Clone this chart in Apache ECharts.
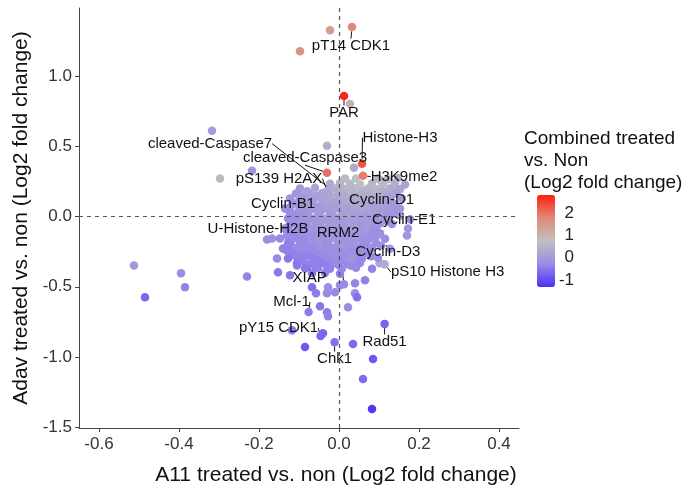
<!DOCTYPE html>
<html>
<head>
<meta charset="utf-8">
<script src="https://cdn.jsdelivr.net/npm/echarts@6/dist/echarts.min.js"></script>
<style>
  html, body { margin: 0; padding: 0; background: #fff; }
  #main { width: 685px; height: 495px; }
</style>
</head>
<body>
<div id="main"></div>
<script>
// [A11 log2 FC, Adav log2 FC, combined log2 FC]
const proteins = [
  [-0.0225, 1.326, 1.4], [-0.0975, 1.177, 1.6], [0.0275, 0.801, 1.0],
  [-0.3175, 0.61, 0.0], [-0.03, 0.504, 0.4], [-0.2975, 0.27, 0.6],
  [-0.2175, 0.326, -0.1], [0.0375, 0.348, 0.3],
  [-0.5125, -0.348, -0.05], [-0.485, -0.574, -0.7], [-0.395, -0.404, -0.25],
  [-0.385, -0.504, -0.4], [-0.23, -0.426, -0.35], [-0.18, -0.163, -0.25],
  [-0.1675, -0.156, -0.2], [-0.155, -0.298, -0.3], [-0.1525, -0.397, -0.5],
  [-0.105, -0.348, -0.4], [-0.1225, -0.418, -0.5], [-0.0675, -0.504, -0.6],
  [-0.0575, -0.546, -0.45], [-0.03, -0.546, -0.3], [-0.01, -0.539, -0.3],
  [-0.0275, -0.504, -0.2], [0.0025, -0.489, -0.3], [0.04, -0.475, -0.35],
  [0.04, -0.546, -0.3], [0.045, -0.574, -0.6], [0.065, -0.454, -0.4],
  [0.0225, -0.645, -0.25], [-0.0475, -0.638, -0.5], [-0.03, -0.681, -0.45],
  [-0.0275, -0.709, -0.4], [-0.1175, -0.809, -0.5], [-0.04, -0.83, -0.7],
  [-0.085, -0.929, -0.9], [0.035, -0.908, -0.65], [0.085, -1.014, -0.9],
  [0.06, -1.156, -0.65], [0.0825, -1.369, -1.25], [0.1015, -0.333, 0.3],
  [0.1725, -0.085, -0.1], [0.1525, 0.007, 0.0], [0.17, -0.135, -0.1],
  // central cloud
  [0.015, 0.27, 0.6], [0.0425, 0.27, 0.7], [0.0975, 0.27, 0.5], [0.1225, 0.265, 0.6], [0.1475, 0.275, 0.4],
  [-0.0225, 0.234, 0.3], [0.0025, 0.238, 0.5], [0.0275, 0.234, 0.6], [0.0525, 0.23, 0.7], [0.0825, 0.236, 0.5],
  [0.11, 0.232, 0.6], [0.14, 0.234, 0.4], [0.165, 0.228, 0.2],
  [-0.0975, 0.199, 0.0], [-0.06, 0.204, 0.2], [-0.01, 0.199, 0.4], [0.015, 0.195, 0.5], [0.04, 0.2, 0.6],
  [0.0725, 0.199, 0.5], [0.0975, 0.196, 0.6], [0.1275, 0.2, 0.3], [0.1525, 0.194, 0.2],
  [-0.08, 0.18, 0.1], [-0.03, 0.182, 0.3], [0.0, 0.178, 0.4], [0.03, 0.18, 0.5], [0.06, 0.183, 0.5],
  [0.085, 0.178, 0.5], [0.11, 0.181, 0.4], [0.135, 0.179, 0.3],
  [-0.1075, 0.163, -0.1], [-0.0725, 0.16, 0.1], [-0.0425, 0.166, 0.2], [-0.0025, 0.163, 0.3], [0.0275, 0.16, 0.5],
  [0.0575, 0.165, 0.4], [0.09, 0.163, 0.5], [0.1175, 0.158, 0.3], [0.1425, 0.163, 0.1],
  [-0.095, 0.145, 0.0], [-0.055, 0.147, 0.1], [-0.02, 0.143, 0.3], [0.012, 0.146, 0.3], [0.045, 0.144, 0.4],
  [0.075, 0.147, 0.4], [0.105, 0.143, 0.3], [0.13, 0.146, 0.2],
  [-0.1225, 0.128, -0.1], [-0.085, 0.125, 0.0], [-0.06, 0.13, 0.1], [-0.0275, 0.128, 0.2], [0.0025, 0.132, 0.3],
  [0.0325, 0.126, 0.3], [0.065, 0.128, 0.4], [0.095, 0.131, 0.3], [0.1275, 0.125, 0.1], [0.1575, 0.128, 0.0],
  [-0.1, 0.11, -0.1], [-0.07, 0.108, 0.0], [-0.04, 0.112, 0.2], [-0.005, 0.109, 0.2], [0.025, 0.111, 0.3],
  [0.055, 0.108, 0.3], [0.085, 0.112, 0.2], [0.12, 0.109, 0.1],
  [-0.11, 0.092, -0.1], [-0.0775, 0.095, 0.0], [-0.0425, 0.09, 0.1], [-0.015, 0.092, 0.2], [0.015, 0.096, 0.2],
  [0.045, 0.09, 0.3], [0.0775, 0.092, 0.2], [0.1125, 0.094, 0.1], [0.14, 0.088, 0.0],
  [-0.12, 0.075, -0.1], [-0.09, 0.077, 0.0], [-0.06, 0.073, 0.0], [-0.025, 0.076, 0.1], [0.005, 0.074, 0.2],
  [0.035, 0.077, 0.2], [0.07, 0.073, 0.2], [0.1, 0.076, 0.1], [0.13, 0.074, 0.0],
  [-0.135, 0.057, -0.2], [-0.0975, 0.06, -0.1], [-0.0675, 0.055, 0.0], [-0.035, 0.057, 0.1], [-0.005, 0.06, 0.1],
  [0.0275, 0.054, 0.2], [0.0575, 0.057, 0.2], [0.09, 0.06, 0.1], [0.1225, 0.055, 0.0], [0.1525, 0.057, -0.1],
  [-0.125, 0.04, -0.2], [-0.1, 0.042, -0.1], [-0.075, 0.038, 0.0], [-0.045, 0.041, 0.0], [-0.015, 0.039, 0.1],
  [0.02, 0.042, 0.1], [0.05, 0.038, 0.2], [0.085, 0.041, 0.1], [0.115, 0.039, 0.0], [0.145, 0.042, -0.1],
  [-0.1175, 0.021, -0.2], [-0.085, 0.024, -0.1], [-0.0525, 0.019, 0.0], [-0.0225, 0.021, 0.0], [0.0075, 0.025, 0.1],
  [0.04, 0.018, 0.1], [0.07, 0.021, 0.1], [0.1025, 0.023, 0.0], [0.1325, 0.019, -0.1],
  [-0.11, 0.003, -0.2], [-0.08, 0.005, -0.1], [-0.05, 0.001, 0.0], [-0.02, 0.004, 0.0], [0.01, 0.002, 0.1],
  [0.035, 0.005, 0.1], [0.065, 0.001, 0.0], [0.095, 0.004, 0.0], [0.125, 0.002, -0.1],
  [-0.1275, -0.014, -0.3], [-0.0975, -0.011, -0.2], [-0.0675, -0.016, -0.1], [-0.0375, -0.014, 0.0], [-0.0075, -0.01, 0.0],
  [0.0225, -0.017, 0.1], [0.0525, -0.014, 0.0], [0.0825, -0.012, 0.0], [0.115, -0.016, -0.1], [0.1775, -0.02, -0.2],
  [-0.12, -0.032, -0.2], [-0.09, -0.03, -0.1], [-0.06, -0.034, -0.1], [-0.03, -0.031, 0.0], [0.0, -0.033, 0.0],
  [0.03, -0.03, 0.1], [0.06, -0.034, 0.0], [0.09, -0.031, -0.1], [0.12, -0.033, -0.1],
  [-0.11, -0.05, -0.2], [-0.08, -0.047, -0.1], [-0.0475, -0.053, -0.1], [-0.0175, -0.05, 0.0], [0.0125, -0.046, 0.0],
  [0.0425, -0.052, 0.0], [0.0725, -0.05, 0.0], [0.1025, -0.048, -0.1], [0.1325, -0.054, -0.2],
  [-0.125, -0.068, -0.3], [-0.09, -0.066, -0.2], [-0.055, -0.07, -0.1], [-0.025, -0.067, 0.0], [0.005, -0.069, 0.0],
  [0.035, -0.066, 0.0], [0.065, -0.07, -0.1], [0.095, -0.067, -0.1],
  [-0.135, -0.085, -0.3], [-0.1025, -0.088, -0.2], [-0.0725, -0.083, -0.1], [-0.0425, -0.085, -0.1],
  [-0.01, -0.089, 0.0], [0.02, -0.084, 0.0], [0.0525, -0.087, -0.1], [0.0825, -0.085, -0.1],
  [-0.13, -0.103, -0.3], [-0.1, -0.101, -0.2], [-0.07, -0.105, -0.1], [-0.04, -0.102, -0.1], [-0.01, -0.104, 0.0],
  [0.02, -0.101, 0.0], [0.05, -0.105, -0.1], [0.085, -0.102, -0.2],
  [-0.1175, -0.121, -0.3], [-0.085, -0.118, -0.2], [-0.055, -0.124, -0.1], [-0.025, -0.121, -0.1],
  [0.005, -0.117, -0.1], [0.035, -0.123, 0.0], [0.0675, -0.121, -0.1], [0.1025, -0.119, -0.2],
  [-0.13, -0.138, -0.3], [-0.095, -0.136, -0.2], [-0.065, -0.14, -0.2], [-0.035, -0.137, -0.1], [0.0, -0.139, -0.1],
  [0.03, -0.136, -0.1], [0.06, -0.14, -0.1], [0.095, -0.137, -0.2],
  [-0.1475, -0.156, -0.3], [-0.11, -0.153, -0.3], [-0.0775, -0.158, -0.2], [-0.0475, -0.156, -0.1], [-0.0175, -0.152, -0.1],
  [0.015, -0.159, -0.1], [0.045, -0.156, -0.1], [0.0775, -0.154, -0.2], [0.115, -0.158, -0.2],
  [-0.12, -0.173, -0.3], [-0.09, -0.171, -0.3], [-0.06, -0.175, -0.2], [-0.025, -0.172, -0.1], [0.005, -0.174, -0.1],
  [0.035, -0.171, -0.1], [0.07, -0.175, -0.2],
  [-0.1275, -0.191, -0.4], [-0.0975, -0.188, -0.3], [-0.065, -0.194, -0.2], [-0.035, -0.191, -0.2],
  [-0.0025, -0.187, -0.1], [0.0275, -0.193, -0.1], [0.06, -0.191, -0.2], [0.0925, -0.189, -0.2],
  [-0.12, -0.209, -0.4], [-0.085, -0.207, -0.3], [-0.055, -0.211, -0.2], [-0.025, -0.208, -0.2], [0.01, -0.21, -0.1],
  [0.04, -0.207, -0.1], [0.07, -0.211, -0.2], [0.105, -0.208, -0.2],
  [-0.14, -0.227, -0.4], [-0.1075, -0.224, -0.3], [-0.0725, -0.229, -0.3], [-0.0425, -0.227, -0.2], [-0.01, -0.223, -0.2],
  [0.0225, -0.229, -0.1], [0.0525, -0.227, -0.2], [0.0825, -0.224, -0.2], [0.1275, -0.23, -0.1],
  [-0.13, -0.244, -0.4], [-0.1, -0.242, -0.3], [-0.065, -0.246, -0.3], [-0.035, -0.243, -0.2], [0.0, -0.245, -0.2],
  [0.03, -0.242, -0.2], [0.06, -0.246, -0.2],
  [-0.1175, -0.262, -0.4], [-0.085, -0.259, -0.3], [-0.0525, -0.265, -0.3], [-0.0225, -0.262, -0.2],
  [0.01, -0.258, -0.2], [0.0425, -0.264, -0.2], [0.0725, -0.262, -0.3],
  [-0.11, -0.28, -0.4], [-0.08, -0.278, -0.4], [-0.045, -0.282, -0.3], [-0.015, -0.279, -0.2], [0.02, -0.281, -0.2],
  [0.05, -0.278, -0.2], [0.08, -0.282, -0.3],
  [-0.1275, -0.298, -0.5], [-0.0975, -0.295, -0.4], [-0.065, -0.3, -0.3], [-0.0325, -0.298, -0.3],
  [0.0025, -0.294, -0.2], [0.0325, -0.301, -0.2], [0.0575, -0.298, -0.3], [0.0975, -0.296, -0.2],
  [-0.09, -0.315, -0.4], [-0.055, -0.313, -0.4], [-0.025, -0.317, -0.3], [0.005, -0.314, -0.3], [0.04, -0.316, -0.3],
  [-0.105, -0.333, -0.5], [-0.0725, -0.336, -0.4], [-0.0425, -0.33, -0.4], [-0.01, -0.333, -0.3],
  [0.0225, -0.337, -0.3], [0.0525, -0.331, -0.3],
  [-0.06, -0.35, -0.4], [-0.03, -0.352, -0.4], [0.0, -0.348, -0.3], [0.03, -0.351, -0.3],
  [-0.085, -0.369, -0.5], [-0.0525, -0.366, -0.4], [-0.0225, -0.372, -0.4], [0.0075, -0.369, -0.3],
  [0.0425, -0.365, -0.3], [0.0825, -0.371, -0.4],
  [-0.0675, -0.404, -0.5], [-0.035, -0.401, -0.4], [0.0025, -0.407, -0.4]
]

const labelNames = [
  "pT14 CDK1", "PAR", "Histone-H3", "H3K9me2", "cleaved-Caspase7", "cleaved-Caspase3",
  "pS139 H2AX", "Cyclin-B1", "Cyclin-D1", "Cyclin-E1", "U-Histone-H2B", "RRM2",
  "Cyclin-D3", "pS10 Histone H3", "XIAP", "Mcl-1", "pY15 CDK1", "Chk1", "Rad51"
]
const labelled = [
  [0.0325, 1.348, 1.8], [0.0125, 0.858, 2.75], [0.0575, 0.376, 2.3], [0.06, 0.291, 1.9],
  [0.0125, 0.12, 0.3], [-0.03, 0.312, 2.0], [-0.025, 0.156, 0.2], [-0.0475, 0.057, 0.0],
  [0.104, 0.259, 0.5], [0.068, -0.083, 0.0], [-0.0525, -0.168, -0.1], [0.0125, -0.482, -0.3],
  [0.032, -0.303, -0.1], [0.114, -0.339, 0.3], [-0.066, -0.295, -0.4], [-0.076, -0.68, -0.45],
  [-0.046, -0.851, -0.7], [-0.011, -0.894, -0.6], [0.114, -0.764, -0.75]
]
// label centre offset from its point, px
const labelOffsets = [
  [-1, 19], [0, 17], [38, -26], [41, 1], [-134, -56], [-22, -15],
  [-50, -16], [-37, -5], [1, 20], [38, -8], [-60, -11], [-6, -51],
  [36, -7], [63, 8], [-3, 20], [-17, -10], [-42, -8], [0, 17], [0, 18]
]

const xTicks = [-0.6, -0.4, -0.2, 0.0, 0.2, 0.4]
const yTicks = [-1.5, -1.0, -0.5, 0.0, 0.5, 1.0]
const colourTicks = [2, 1, 0, -1]
const colourMin = -1.32
const colourMax = 2.8

const font = "Liberation Sans, Arial, sans-serif"
const bar = { left: 537, top: 195, width: 18, height: 92 }

const legendGraphics = [
  { type: "text", left: 524, top: 128, style: { text: "Combined treated\nvs. Non\n(Log2 fold change)", font: `19px ${font}`, fill: "#111", lineHeight: 22 } }
]
colourTicks.forEach(v => {
  legendGraphics.push({
    type: "text",
    x: 574,
    y: bar.top + (colourMax - v) / (colourMax - colourMin) * bar.height,
    style: { text: String(v), font: `17px ${font}`, fill: "#222", align: "right", verticalAlign: "middle" }
  })
})

const chart = echarts.init(document.getElementById("main"))

chart.setOption({
  animation: false,
  textStyle: { fontFamily: font },
  grid: { left: 79, right: 166, top: 8, bottom: 67 },
  xAxis: {
    type: "value", min: -0.65, max: 0.45,
    splitLine: { show: false },
    axisLine: { onZero: false, lineStyle: { color: "#444" } },
    axisTick: { length: 4, lineStyle: { color: "#444" }, customValues: xTicks },
    axisLabel: { fontSize: 17, color: "#333", margin: 8, customValues: xTicks, formatter: v => v.toFixed(1) },
    name: "A11 treated vs. non (Log2 fold change)",
    nameLocation: "middle", nameGap: 37,
    nameTextStyle: { fontSize: 21, color: "#111", padding: [0, 0, 0, 74] }
  },
  yAxis: {
    type: "value", min: -1.505, max: 1.484,
    splitLine: { show: false },
    axisLine: { onZero: false, lineStyle: { color: "#444" } },
    axisTick: { length: 4, lineStyle: { color: "#444" }, customValues: yTicks },
    axisLabel: { fontSize: 17, color: "#333", margin: 7, customValues: yTicks, formatter: v => v.toFixed(1) },
    name: "Adav treated vs. non (Log2 fold change)",
    nameLocation: "middle", nameGap: 46,
    nameTextStyle: { fontSize: 21, color: "#111" }
  },
  visualMap: {
    type: "continuous", min: colourMin, max: colourMax, dimension: 2, seriesIndex: [0, 1],
    left: bar.left, top: bar.top, itemWidth: bar.width, itemHeight: bar.height,
    padding: 0, calculable: false, hoverLink: false, text: null,
    inRange: { color: ["#4a32f5", "#9b8ae6", "#c0c0c0", "#e08a78", "#ff2010"] }
  },
  graphic: legendGraphics,
  series: [
    {
      type: "scatter", symbolSize: 8.5, data: proteins,
      itemStyle: { opacity: 1 }
    },
    {
      type: "scatter", symbolSize: 8.5,
      data: labelled.map((p, i) => ({ value: p, name: labelNames[i] })),
      itemStyle: { opacity: 1 },
      label: { show: true, position: "inside", formatter: "{b}", fontSize: 15, color: "#111", fontFamily: font },
      labelLine: { show: true, lineStyle: { color: "#111", width: 1 } },
      labelLayout: params => ({ dx: labelOffsets[params.dataIndex][0], dy: labelOffsets[params.dataIndex][1] }),
      markLine: {
        silent: true, symbol: "none", label: { show: false },
        lineStyle: { color: "#555", type: [4, 4], width: 1.2 },
        data: [{ xAxis: 0 }, { yAxis: 0 }]
      }
    }
  ]
})
window.onresize = () => chart.resize()
</script>
</body>
</html>
